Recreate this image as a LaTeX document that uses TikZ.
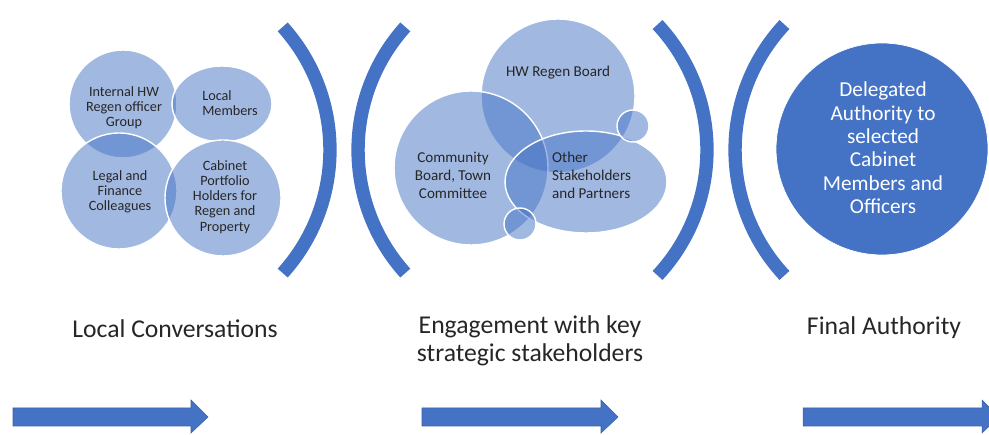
\documentclass[tikz,border=0pt]{standalone}
\usepackage{fontspec}
\setmainfont{Carlito}
\usetikzlibrary{shapes.geometric}
\definecolor{mainblue}{HTML}{4472C4}
\definecolor{inkgrey}{HTML}{262626}

\begin{document}
\begin{tikzpicture}[x=0.02cm,y=0.02cm,
  bub/.style={circle,draw=white,line width=0.8pt,fill=mainblue,fill opacity=0.5,inner sep=0pt},
  oval/.style={ellipse,draw=white,line width=0.8pt,fill=mainblue,fill opacity=0.5,inner sep=0pt},
  small/.style={text=inkgrey,align=center,font=\fontsize{8.1}{8.6}\selectfont},
  mid/.style={text=inkgrey,align=center,font=\fontsize{8.6}{10.3}\selectfont},
  big/.style={text=inkgrey,align=center,font=\fontsize{14.6}{16}\selectfont},
  bracket/.style={draw=mainblue,line width=7.6pt},
  blk/.style={fill=mainblue,draw=mainblue!85!black,line width=0.3pt}]
\useasboundingbox (0,0) rectangle (989,435);
\node[bub,minimum size=2.16cm]                      (a) at (123,331) {};
\node[oval,minimum width=2cm,minimum height=1.52cm] (b) at (222,331) {};
\node[bub,minimum size=2.32cm]                      (c) at (119,244) {};
\node[bub,minimum size=2.32cm]                      (d) at (223,237) {};
\node[bub,minimum size=3.08cm]                      (e) at (558,339) {};
\node[bub,minimum size=3.08cm]                      (f) at (471,267) {};
\node[oval,minimum width=3.24cm,minimum height=2.04cm] (g) at (586,253) {};
\node[bub,minimum size=0.64cm]                      (h) at (633,309) {};
\node[bub,minimum size=0.64cm]                      (i) at (520,211) {};
\node[circle,fill=mainblue,draw=white,minimum size=4.24cm] (j) at (882,286) {};
\node[small]            (ta) at (124,327) {Internal HW\\Regen officer\\Group};
\node[small,align=left] (tb) at (230,332) {Local\\Members};
\node[small]            (tc) at (120,243) {Legal and\\Finance\\Colleagues};
\node[small]            (td) at (225,238) {Cabinet\\Portfolio\\Holders for\\Regen and\\Property};
\node[mid]              (te) at (558,362) {HW Regen Board};
\node[mid]              (tf) at (453,260) {Community\\Board, Town\\Committee};
\node[mid,align=left,anchor=west] (tg) at (546,260) {Other\\Stakeholders\\and Partners};
\node[text=white,align=center,font=\fontsize{12.1}{13.3}\selectfont] (tj) at (883,287) {Delegated\\Authority to\\selected\\Cabinet\\Members and\\Officers};
\node[big] (la) at (175,106) {Local Conversations};
\node[big] (lb) at (530,94)  {Engagement with key\\strategic stakeholders};
\node[big] (lc) at (884,107) {Final Authority};
\draw[bracket] ([shift={(42:3.68cm)}]146,285)  arc[start angle=42,end angle=-42,radius=3.68cm];
\draw[bracket] ([shift={(138:3.68cm)}]542,285) arc[start angle=138,end angle=222,radius=3.68cm];
\draw[bracket] ([shift={(43:3.68cm)}]523,285)  arc[start angle=43,end angle=-43,radius=3.68cm];
\draw[bracket] ([shift={(137:3.68cm)}]919,285) arc[start angle=137,end angle=223,radius=3.68cm];
\foreach \s/\b/\t in {13/191/208, 422/601/618, 803/982/999}
  \filldraw[blk] (\s,9) -- (\b,9) -- (\b,2) -- (\t,18) -- (\b,35) -- (\b,27) -- (\s,27) -- cycle;
\end{tikzpicture}
\end{document}
